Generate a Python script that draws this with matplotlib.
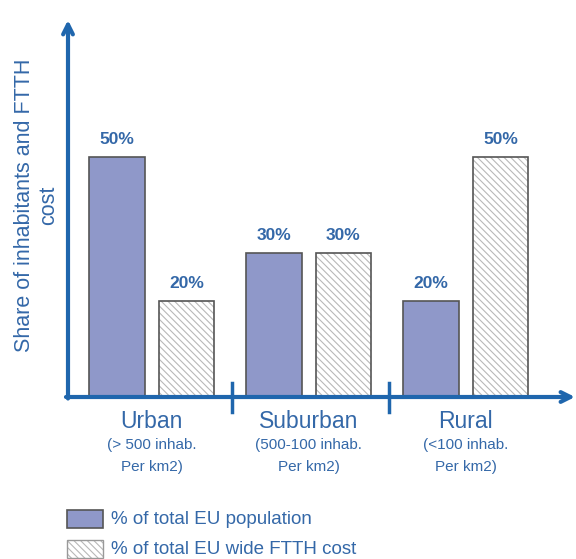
import matplotlib.pyplot as plt
import matplotlib.transforms as mtransforms
from matplotlib.patches import Rectangle
import numpy as np

categories = ['Urban', 'Suburban', 'Rural']
sub_labels = ['(> 500 inhab.', '(500-100 inhab.', '(<100 inhab.']
sub_labels2 = ['Per km2)', 'Per km2)', 'Per km2)']
population = [50, 30, 20]
ftth_cost = [20, 30, 50]
series_names = ['% of total EU population', '% of total EU wide FTTH cost']

blue = '#1f66ad'
text_blue = '#3468a8'
bar_fill = '#8f98c9'
edge = '#555555'
hatch_col = '#b8b8b8'

plt.rcParams['font.family'] = ['Liberation Sans', 'DejaVu Sans']
plt.rcParams['hatch.linewidth'] = 0.8

fig = plt.figure(figsize=(5.76, 5.59), dpi=100, facecolor='white')
ax = fig.add_axes([68 / 576, (559 - 397) / 559, (575 - 68) / 576, (397 - 20) / 559])

x = np.arange(len(categories))
w = 0.355
off = 0.222

ax.bar(x - off, population, w, color=bar_fill, edgecolor=edge, linewidth=1.2, zorder=2)
ax.bar(x + off, ftth_cost, w, color='white', edgecolor=hatch_col, hatch='\\\\\\\\\\', linewidth=0, zorder=2)
ax.bar(x + off, ftth_cost, w, fill=False, edgecolor=edge, linewidth=1.2, zorder=3)

for xi, v in zip(x - off, population):
    ax.text(xi, v + 2.0, f'{v}%', ha='center', va='bottom', fontsize=12.5, fontweight='bold', color=text_blue)
for xi, v in zip(x + off, ftth_cost):
    ax.text(xi, v + 2.0, f'{v}%', ha='center', va='bottom', fontsize=12.5, fontweight='bold', color=text_blue)

ax.set_xlim(-0.532, 2.697)
ax.set_ylim(0, 78.5)
for s in ax.spines.values():
    s.set_visible(False)
ax.set_xticks([])
ax.set_yticks([])

# axis arrows
ax.annotate('', xy=(1.0, 0), xytext=(-0.004, 0), xycoords='axes fraction',
            arrowprops=dict(arrowstyle='->,head_length=0.7,head_width=0.35', color=blue, lw=3, shrinkA=0, shrinkB=0))
ax.annotate('', xy=(0, 1.0), xytext=(0, -0.004), xycoords='axes fraction',
            arrowprops=dict(arrowstyle='->,head_length=0.7,head_width=0.35', color=blue, lw=3, shrinkA=0, shrinkB=0))

# separators between groups
for sx in [0.51, 1.515]:
    ax.plot([sx, sx], [-3.2, 3.0], color=blue, lw=2.5, clip_on=False, zorder=4)

trans = mtransforms.blended_transform_factory(ax.transData, ax.transAxes)
for xi, c, s, s2 in zip(x, categories, sub_labels, sub_labels2):
    ax.text(xi, -0.064, c, transform=trans, ha='center', va='center', fontsize=16.5, color=text_blue)
    ax.text(xi, -0.128, s, transform=trans, ha='center', va='center', fontsize=11, color=text_blue)
    ax.text(xi, -0.186, s2, transform=trans, ha='center', va='center', fontsize=11, color=text_blue)

fig.text(0.064, 0.633, 'Share of inhabitants and FTTH\ncost', rotation=90, ha='center', va='center',
         fontsize=15.5, color=text_blue, linespacing=1.2)

# legend
rows_y = [519, 549]
for i, (name, yc) in enumerate(zip(series_names, rows_y)):
    yb = (559 - yc - 9) / 559
    if i == 0:
        fig.add_artist(Rectangle((67 / 576, yb), 36 / 576, 18 / 559, transform=fig.transFigure,
                                 facecolor=bar_fill, edgecolor=edge, linewidth=1.2))
    else:
        fig.add_artist(Rectangle((67 / 576, yb), 36 / 576, 18 / 559, transform=fig.transFigure,
                                 facecolor='white', edgecolor=hatch_col, hatch='\\\\\\\\\\', linewidth=0))
        fig.add_artist(Rectangle((67 / 576, yb), 36 / 576, 18 / 559, transform=fig.transFigure,
                                 fill=False, edgecolor='#999999', linewidth=1.0))
    fig.text(111 / 576, (559 - yc) / 559, name, ha='left', va='center', fontsize=13.5, color=text_blue)

fig.savefig('out.png', dpi=100, facecolor='white')
